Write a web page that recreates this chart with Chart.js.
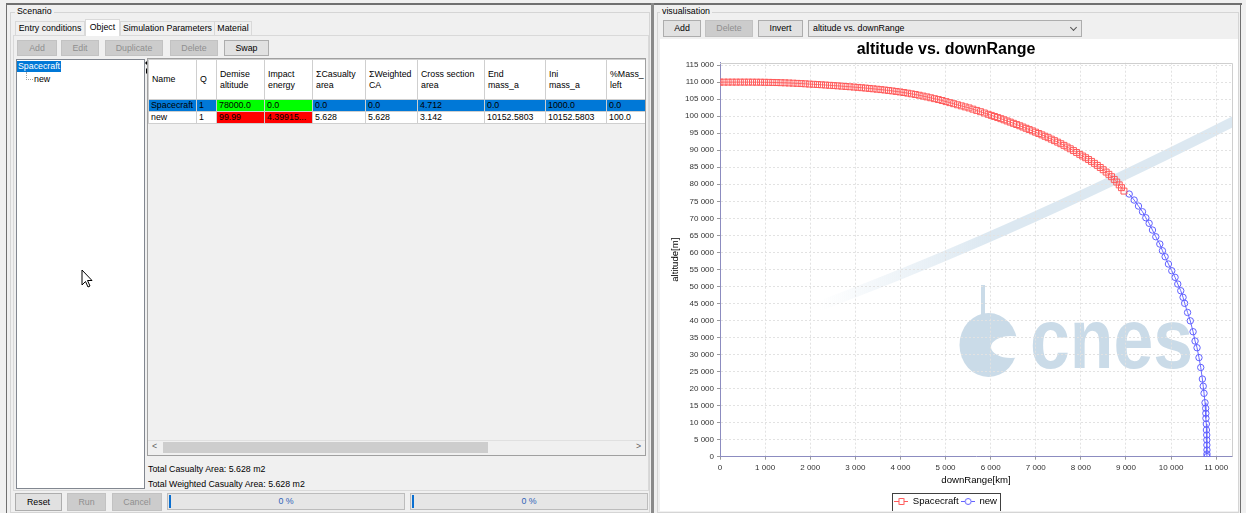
<!DOCTYPE html>
<html>
<head>
<meta charset="utf-8">
<script src="https://cdn.jsdelivr.net/npm/chart.js@4.4.1/dist/chart.umd.min.js"></script>
<style>
  html, body { margin: 0; padding: 0; }
  body { width: 1246px; height: 513px; background: #f0f0f0; position: relative; overflow: hidden;
         font-family: "Liberation Sans", Arial, sans-serif; font-size: 8.8px; color: #000; }
  .abs { position: absolute; box-sizing: border-box; }
  .btn { position: absolute; box-sizing: border-box; height: 16px; border: 1px solid #adadad; background: #e1e1e1;
         text-align: center; line-height: 14px; white-space: nowrap; }
  .btn.off { background: #cccccc; border-color: #c2c2c2; color: #8f8f8f; }
  .tab { position: absolute; box-sizing: border-box; top: 21px; height: 14px; border: 1px solid #d9d9d9; border-bottom: none;
         background: #f0f0f0; text-align: center; line-height: 12px; white-space: nowrap; }
  .tab.sel { top: 19px; height: 17px; background: #fff; line-height: 15px; }
  table.grid { border-collapse: collapse; table-layout: fixed; width: 498px; }
  table.grid td { border: 1px solid #cfcfcf; padding: 0 0 0 2px; overflow: hidden; white-space: nowrap;
                  text-overflow: ellipsis; height: 11px; line-height: 11px; }
  table.grid tr.hd td { height: 39px; background: #fff; padding-left: 3px; vertical-align: middle; white-space: normal; }
  .prog { position: absolute; box-sizing: border-box; top: 493px; height: 17px; border: 1px solid #bcbcbc; background: #e6e6e6;
          text-align: center; line-height: 15px; color: #2f62b8; }
  .prog i { position: absolute; left: 1px; top: 1px; width: 2px; height: 13px; background: #0a6fd0; }
</style>
</head>
<body>

<!-- window frame -->
<div class="abs" style="left:6px;top:3px;width:1236px;height:2px;background:#707070"></div>
<div class="abs" style="left:6px;top:3px;width:1px;height:510px;background:#707070"></div>
<div class="abs" style="left:651px;top:3px;width:3px;height:510px;background:#8a8a8a"></div>
<div class="abs" style="left:1240px;top:3px;width:1px;height:510px;background:#707070"></div>

<!-- Scenario panel -->
<div class="abs" style="left:10px;top:12px;width:640px;height:501px;border:1px solid #d5d5d5"></div>
<div class="abs" style="left:15px;top:6px;padding:0 2px;background:#f0f0f0">Scenario</div>

<div class="abs" style="left:13px;top:35px;width:636px;height:456px;border:1px solid #d9d9d9;background:#f0f0f0"></div>
<div class="tab" style="left:15px;width:70px">Entry conditions</div>
<div class="tab sel" style="left:85px;width:35px">Object</div>
<div class="tab" style="left:120px;width:95px">Simulation Parameters</div>
<div class="tab" style="left:214px;width:38px">Material</div>

<div class="btn off" style="left:17px;top:40px;width:40px">Add</div>
<div class="btn off" style="left:61px;top:40px;width:38px">Edit</div>
<div class="btn off" style="left:105px;top:40px;width:58px">Duplicate</div>
<div class="btn off" style="left:170px;top:40px;width:48px">Delete</div>
<div class="btn" style="left:224px;top:40px;width:45px">Swap</div>

<!-- tree -->
<div class="abs" style="left:16px;top:59px;width:129px;height:430px;border:1px solid #828790;background:#fff"></div>
<div class="abs" style="left:17px;top:61px;width:44px;height:11px;background:#0078d7;color:#fff;line-height:11px;padding-left:1px">Spacecraft</div>
<div class="abs" style="left:26px;top:72px;width:0;height:8px;border-left:1px dotted #a0a0a0"></div>
<div class="abs" style="left:26px;top:79px;width:7px;height:0;border-top:1px dotted #a0a0a0"></div>
<div class="abs" style="left:34px;top:74px">new</div>
<svg class="abs" style="left:81px;top:269px" width="13" height="20" viewBox="0 0 13 20">
  <path d="M1 1 L1 16 L4.5 12.5 L7 18 L9 17 L6.5 11.5 L11 11.5 Z" fill="#fff" stroke="#000" stroke-width="1"/>
</svg>

<!-- splitter arrows -->
<div class="abs" style="left:145px;top:60px;width:0;height:0;border-top:3px solid transparent;border-bottom:3px solid transparent;border-right:3px solid #000"></div>
<div class="abs" style="left:146px;top:68px;width:0;height:0;border-top:3px solid transparent;border-bottom:3px solid transparent;border-left:3px solid #000"></div>

<!-- table -->
<div class="abs" style="left:147px;top:58px;width:499px;height:398px;border:1px solid #a0a0a0;background:#f0f0f0;overflow:hidden">
  <table class="grid">
    <colgroup>
      <col style="width:48px"><col style="width:20px"><col style="width:48px"><col style="width:48px"><col style="width:53px">
      <col style="width:52px"><col style="width:67px"><col style="width:61px"><col style="width:61px"><col style="width:40px">
    </colgroup>
    <tr class="hd"><td>Name</td><td>Q</td><td>Demise<br>altitude</td><td>Impact<br>energy</td><td>ΣCasualty<br>area</td>
      <td>ΣWeighted<br>CA</td><td>Cross section<br>area</td><td>End<br>mass_a</td><td>Ini<br>mass_a</td><td>%Mass_<br>left</td></tr>
    <tr style="background:#0078d7"><td>Spacecraft</td><td>1</td><td style="background:#00ff00">78000.0</td><td style="background:#00ff00">0.0</td>
      <td>0.0</td><td>0.0</td><td>4.712</td><td>0.0</td><td>1000.0</td><td>0.0</td></tr>
    <tr style="background:#fff"><td>new</td><td>1</td><td style="background:#ff0000">99.99</td><td style="background:#ff0000">4.39915...</td>
      <td>5.628</td><td>5.628</td><td>3.142</td><td>10152.5803</td><td>10152.5803</td><td>100.0</td></tr>
  </table>
  <div class="abs" style="left:0;top:381px;width:497px;height:15px;background:#f0f0f0;border-top:1px solid #e0e0e0"></div>
  <div class="abs" style="left:15px;top:383px;width:325px;height:11px;background:#cdcdcd"></div>
  <div class="abs" style="left:4px;top:382px;color:#606060">&lt;</div>
  <div class="abs" style="left:488px;top:382px;color:#606060">&gt;</div>
</div>
<div class="abs" style="left:148px;top:464px">Total Casualty Area: 5.628 m2</div>
<div class="abs" style="left:148px;top:479px">Total Weighted Casualty Area: 5.628 m2</div>

<div class="btn" style="left:15px;top:493px;width:47px;height:18px;line-height:16px">Reset</div>
<div class="btn off" style="left:67px;top:493px;width:39px;height:18px;line-height:16px">Run</div>
<div class="btn off" style="left:112px;top:493px;width:50px;height:18px;line-height:16px">Cancel</div>
<div class="prog" style="left:167px;width:238px"><i></i>0 %</div>
<div class="prog" style="left:410px;width:238px"><i></i>0 %</div>

<!-- visualisation panel -->
<div class="abs" style="left:657px;top:12px;width:582px;height:501px;border:1px solid #d5d5d5"></div>
<div class="abs" style="left:660px;top:6px;padding:0 2px;background:#f0f0f0">visualisation</div>
<div class="btn" style="left:663px;top:20px;width:38px;height:17px;line-height:15px">Add</div>
<div class="btn off" style="left:705px;top:20px;width:48px;height:17px;line-height:15px">Delete</div>
<div class="btn" style="left:758px;top:20px;width:45px;height:17px;line-height:15px">Invert</div>
<div class="btn" style="left:808px;top:20px;width:274px;height:17px;line-height:15px;text-align:left;padding-left:4px;background:#e8e8e8">altitude vs. downRange</div>
<div class="abs" style="left:1071px;top:25px;width:5px;height:5px;border-right:1px solid #555;border-bottom:1px solid #555;transform:rotate(45deg)"></div>

<canvas id="altChart" width="578" height="472" style="position:absolute;left:660px;top:39px;background:#fff"></canvas>

<script>
// titles and series names
const chartTitle = 'altitude vs. downRange';
const xTitle = 'downRange[km]';
const yTitle = 'altitude[m]';
const seriesNames = ['Spacecraft', 'new'];

// axis ranges and tick positions
const xMax = 11350;
const yMax = 115700;
const xTickValues = [0, 1000, 2000, 3000, 4000, 5000, 6000, 7000, 8000, 9000, 10000, 11000];
const yTickValues = [0, 5000, 10000, 15000, 20000, 25000, 30000, 35000, 40000, 45000, 50000, 55000,
  60000, 65000, 70000, 75000, 80000, 85000, 90000, 95000, 100000, 105000, 110000, 115000];

// Spacecraft: downRange [km] / altitude [m]
const spacecraftDownRange = [
  0, 90, 180, 270, 360, 450, 540, 630, 720, 810, 900, 990, 1080, 1170, 1260, 1350, 1440, 1530, 1620, 1710,
  1800, 1890, 1980, 2070, 2160, 2250, 2340, 2430, 2520, 2610, 2700, 2790, 2880, 2970,
  3055, 3140, 3225, 3310, 3395, 3480, 3565, 3650, 3735, 3820, 3905, 3990, 4075, 4160, 4245, 4330, 4415, 4500,
  4585, 4670, 4755, 4840, 4925, 5010, 5095, 5180, 5265, 5350, 5435, 5520, 5605, 5690, 5775, 5860, 5945,
  6015, 6085, 6155, 6225, 6295, 6365, 6435, 6505, 6575, 6645, 6715, 6785, 6855, 6925, 6995, 7065, 7135, 7205,
  7275, 7345, 7415, 7485, 7555, 7625, 7695, 7765, 7835, 7905, 7975,
  8040, 8105, 8170, 8235, 8300, 8365, 8430, 8495, 8560, 8620, 8680, 8740, 8795, 8850, 8900, 8955
];
const spacecraftAltitude = [
  110000, 110000, 110000, 110000, 110000, 110000, 110000, 110000, 109990, 109980, 109970, 109950, 109930, 109900,
  109870, 109830, 109790, 109740, 109690, 109630, 109570, 109500, 109420, 109360, 109290, 109220, 109140, 109060,
  108980, 108900, 108810, 108720, 108630, 108540,
  108450, 108350, 108250, 108140, 108030, 107920, 107800, 107680, 107550, 107410, 107260, 107110, 106940, 106760,
  106560, 106360, 106150, 105900, 105660, 105400, 105140, 104880, 104600, 104270, 103970, 103660, 103340, 103030,
  102720, 102420, 102060, 101690, 101310, 100930, 100550,
  100230, 99910, 99590, 99260, 98930, 98590, 98250, 97900, 97540, 97180, 96810, 96440, 96060, 95680, 95300, 94910,
  94510, 94100, 93680, 93250, 92810, 92370, 91910, 91430, 90930, 90420, 89890, 89340, 88780,
  88290, 87790, 87270, 86720, 86150, 85550, 84930, 84270, 83580, 82920, 82220, 81430, 80650, 79820, 79000, 78000
];

// new: downRange [km] / altitude [m]
const newDownRange = [
  9071, 9181, 9277, 9366, 9440, 9513, 9587, 9661, 9750, 9808, 9867, 9941, 10015, 10088, 10148, 10214, 10265, 10300,
  10365, 10425, 10487, 10531, 10575, 10618, 10657, 10693, 10712, 10730, 10752, 10767, 10770, 10772, 10781, 10783,
  10790, 10792, 10793, 10795, 10795, 10796
];
const newAltitude = [
  77130, 75370, 73600, 71930, 70170, 68530, 66560, 64590, 62450, 60480, 58720, 56580, 54610, 52670, 50700, 48740,
  46800, 45040, 42350, 39900, 36700, 33970, 32000, 29100, 26200, 22810, 20700, 18610, 15850, 14210, 12740, 11270,
  9600, 7840, 6370, 4900, 3430, 1970, 790, 0
];

const FONT = '"Liberation Sans", Arial, sans-serif';
Chart.defaults.font.family = FONT;

function toPoints(xs, ys) {
  return xs.map((x, i) => ({ x: x, y: ys[i] }));
}

// thousands with a space, like the original
function spaced(v) {
  return String(v).replace(/\B(?=(\d{3})+(?!\d))/g, ' ');
}

// small "-[]-" / "-o-" icons for the legend
function makeIcon(color, shape) {
  const c = document.createElement('canvas');
  c.width = 14; c.height = 9;
  const g = c.getContext('2d');
  g.strokeStyle = color;
  g.lineWidth = 1;
  g.beginPath(); g.moveTo(0, 4.5); g.lineTo(14, 4.5); g.stroke();
  g.fillStyle = '#fff';
  g.beginPath();
  if (shape === 'rect') g.rect(4.5, 1.5, 5, 6);
  else g.arc(7, 4.5, 3, 0, Math.PI * 2);
  g.fill(); g.stroke();
  return c;
}
const legendIcons = [makeIcon('#ff5a5a', 'rect'), makeIcon('#6464ff', 'circle')];

// cnes logo + swoosh behind the grid
const cnesWatermark = {
  id: 'cnesWatermark',
  beforeDraw(chart) {
    const { ctx, chartArea: a } = chart;
    ctx.save();
    ctx.beginPath();
    ctx.rect(a.left, a.top, a.right - a.left, a.bottom - a.top);
    ctx.clip();

    const grad = ctx.createLinearGradient(160, 0, 330, 0);
    grad.addColorStop(0, 'rgba(220,232,241,0)');
    grad.addColorStop(1, 'rgba(220,232,241,1)');
    ctx.strokeStyle = grad;
    ctx.lineWidth = 10;
    ctx.beginPath();
    ctx.moveTo(140, 274);
    ctx.quadraticCurveTo(340, 201, 582, 78);
    ctx.stroke();

    // logo: disc with a slit open to the right, and a stem on top
    ctx.fillStyle = '#cadbe8';
    ctx.beginPath();
    ctx.ellipse(328.5, 306, 29, 32, 0, 0, Math.PI * 2);
    ctx.fill();
    ctx.fillStyle = '#fff';
    ctx.beginPath();
    ctx.ellipse(351, 308, 20, 11, 0, 0, Math.PI * 2);
    ctx.fill();
    ctx.fillStyle = '#cadbe8';
    ctx.fillRect(321, 246, 4, 50);

    ctx.font = 'bold 86px ' + FONT;
    ctx.textAlign = 'left';
    ctx.textBaseline = 'alphabetic';
    const w = ctx.measureText('cnes').width;
    ctx.translate(370, 329);
    ctx.scale(163 / w, 1);
    ctx.fillText('cnes', 0, 0);
    ctx.restore();
  },
  afterDraw(chart) {
    const { ctx, chartArea: a } = chart;
    ctx.save();
    ctx.strokeStyle = '#cfcfcf';
    ctx.lineWidth = 1;
    ctx.beginPath();
    ctx.moveTo(a.left, Math.round(a.top) + 0.5);
    ctx.lineTo(Math.round(a.right) + 0.5, Math.round(a.top) + 0.5);
    ctx.lineTo(Math.round(a.right) + 0.5, a.bottom);
    ctx.stroke();

    const boxes = chart.legend.legendHitBoxes;
    if (boxes && boxes.length) {
      const l = Math.min(...boxes.map(b => b.left)) - 3;
      const r = Math.max(...boxes.map(b => b.left + b.width)) + 3;
      const t = boxes[0].top - 4;
      const btm = boxes[0].top + boxes[0].height + 4;
      ctx.strokeStyle = '#404040';
      ctx.strokeRect(Math.round(l) + 0.5, Math.round(t) + 0.5, Math.round(r - l), Math.round(btm - t));
    }
    ctx.restore();
  }
};

new Chart('altChart', {
  type: 'scatter',
  data: {
    datasets: [{
      label: seriesNames[0],
      data: toPoints(spacecraftDownRange, spacecraftAltitude),
      showLine: true,
      borderColor: '#ff7070',
      borderWidth: 1,
      pointStyle: 'rect',
      pointRadius: 4.2,
      pointBorderWidth: 1,
      pointBorderColor: '#ff5a5a',
      pointBackgroundColor: 'rgba(255,255,255,0)'
    }, {
      label: seriesNames[1],
      data: toPoints(newDownRange, newAltitude),
      showLine: true,
      borderColor: '#6a6aff',
      borderWidth: 1,
      pointStyle: 'circle',
      pointRadius: 3.2,
      pointBorderWidth: 1,
      pointBorderColor: '#6060ff',
      pointBackgroundColor: 'rgba(255,255,255,0)'
    }]
  },
  options: {
    responsive: false,
    animation: false,
    devicePixelRatio: 1,
    layout: { padding: { left: 0, right: 6, top: 0, bottom: -5.3 } },
    plugins: {
      title: {
        display: true, text: chartTitle, color: '#000',
        font: { size: 16, weight: 'bold' }, padding: { top: 1, bottom: 3.5 }
      },
      legend: {
        position: 'bottom',
        labels: {
          usePointStyle: true, pointStyleWidth: 13, padding: 3, color: '#000',
          font: { size: 9.6 },
          generateLabels: chart => chart.data.datasets.map((ds, i) => ({
            text: ds.label, pointStyle: legendIcons[i], datasetIndex: i, hidden: false,
            fillStyle: 'rgba(0,0,0,0)', strokeStyle: 'rgba(0,0,0,0)', lineWidth: 0, fontColor: '#000'
          }))
        }
      },
      tooltip: { enabled: false }
    },
    scales: {
      x: {
        type: 'linear', min: 0, max: xMax,
        afterFit: s => { s.height = 37; },
        afterBuildTicks: s => { s.ticks = xTickValues.map(v => ({ value: v })); },
        ticks: { autoSkip: false, maxRotation: 0, padding: 3,
                 color: '#333', font: { size: 8 }, callback: v => spaced(v) },
        grid: { color: '#e2e2e2', tickColor: '#999', tickLength: 3 },
        border: { color: '#8c8cc0', dash: [2, 2] },
        title: { display: true, text: xTitle, color: '#000', font: { size: 9.6 }, padding: { top: 0, bottom: 8 } }
      },
      y: {
        type: 'linear', min: 0, max: yMax,
        afterFit: s => { s.width = 60; },
        afterBuildTicks: s => { s.ticks = yTickValues.map(v => ({ value: v })); },
        ticks: { autoSkip: false, padding: 3,
                 color: '#333', font: { size: 8 }, callback: v => spaced(v) },
        grid: { color: '#e2e2e2', tickColor: '#999', tickLength: 3 },
        border: { color: '#8c8cc0', dash: [2, 2] },
        title: { display: true, text: yTitle, color: '#000', font: { size: 9.6 }, padding: { top: 10, bottom: 0 } }
      }
    }
  },
  plugins: [cnesWatermark]
});
</script>
</body>
</html>
